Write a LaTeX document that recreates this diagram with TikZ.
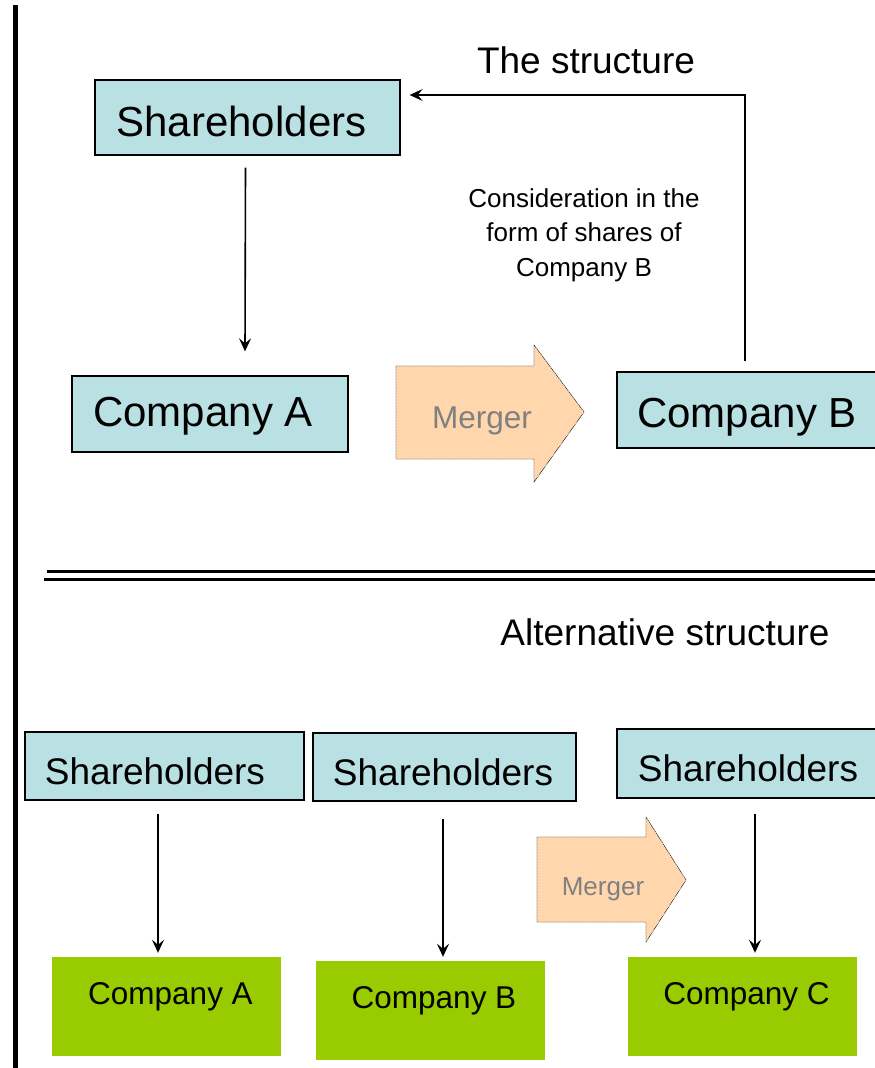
\documentclass[tikz,border=0pt]{standalone}
\usepackage{fontspec}
\setmainfont{Liberation Sans}
\usepackage{xcolor}
\usetikzlibrary{arrows.meta, positioning, calc, patterns}
\definecolor{boxblue}{HTML}{B9E0E2}
\definecolor{boxgreen}{HTML}{99CC00}
\definecolor{mergefill}{HTML}{FFD4A8}
\definecolor{mergehatch}{HTML}{FFDDBA}
\definecolor{mergetext}{HTML}{808080}
\begin{document}
\begin{tikzpicture}[x=1pt, y=-1pt,
  bluebox/.style={draw=black, line width=1.3pt, fill=boxblue, inner sep=0pt},
  greenbox/.style={fill=boxgreen, inner sep=0pt, minimum width=229pt, minimum height=99pt},
  bigtext/.style={font=\fontsize{42}{48}\selectfont},
  midtext/.style={font=\fontsize{37}{42}\selectfont},
  smalltext/.style={font=\fontsize{31.5}{36}\selectfont},
  mergeshape/.style={fill=mergefill, postaction={pattern=north east lines, pattern color=mergehatch}},
  arr/.style={line width=1.6pt, -{Stealth[length=13pt, width=12pt, inset=5pt]}}]
\useasboundingbox (0,0) rectangle (875,1068);
\fill[white] (0,0) rectangle (875,1068);

\draw[line width=5pt] (15.5,5) -- (15.5,1068);
\draw[line width=3pt] (47,571) -- (875,571);
\draw[line width=3pt] (44,579) -- (875,579);

% the structure
\node[midtext] (title) at (586,60) {The structure};
\node[bluebox, minimum width=305pt, minimum height=75pt] (sh) at (247.5,117.5) {};
\node[bigtext] (sh-t) at ([xshift=-6pt, yshift=-3.5pt]sh) {Shareholders};
\node[bluebox, minimum width=276pt, minimum height=76pt] (ca) at (210,414) {};
\node[bigtext] (ca-t) at ([xshift=-7pt, yshift=-2pt]ca) {Company A};
\node[bluebox, minimum width=262pt, minimum height=76pt] (cb) at (748,410) {};
\node[bigtext] (cb-t) at ([xshift=-1pt, yshift=-7.5pt]cb) {Company B};
\node[align=center, font=\fontsize{26}{34.5}\selectfont] (cons) at (584,235)
  {Consideration in the\\form of shares of\\Company B};

\draw[mergeshape] (396,366) -- (534,366) -- (534,345) -- (584,412) -- (534,482) -- (534,459) -- (396,459) -- cycle;
\node[text=mergetext, smalltext] (merge) at (482,421) {Merger};

\draw[arr] ([xshift=-2pt, yshift=-12pt]sh.south) -- ([xshift=35pt, yshift=24pt]ca.north);
\draw[arr] ([xshift=-3pt, yshift=10pt]cb.north) |- ([xshift=9pt, yshift=22.5pt]sh.east);

% alternative structure
\node[midtext] (alt) at (665,632) {Alternative structure};
\node[bluebox, minimum width=279pt, minimum height=68pt] (sha) at (164.5,766) {};
\node[midtext] (sha-t) at ([xshift=-9.5pt, yshift=-5pt]sha) {Shareholders};
\node[bluebox, minimum width=263pt, minimum height=68pt] (shb) at (444.5,767) {};
\node[midtext] (shb-t) at ([xshift=-1.5pt, yshift=-5pt]shb) {Shareholders};
\node[bluebox, minimum width=264pt, minimum height=69pt] (shc) at (749,763.5) {};
\node[midtext] (shc-t) at ([xshift=-1pt, yshift=-5pt]shc) {Shareholders};

\node[greenbox] (ga) at (166,1006.5) {};
\node[smalltext] (ga-t) at ([xshift=4.5pt, yshift=10pt]ga) {Company A};
\node[greenbox] (gb) at (430.5,1010.5) {};
\node[smalltext] (gb-t) at ([xshift=3.5pt, yshift=9.5pt]gb) {Company B};
\node[greenbox] (gc) at (742.5,1006.5) {};
\node[smalltext] (gc-t) at ([xshift=4pt, yshift=9.5pt]gc) {Company C};

\draw[mergeshape] (537,837) -- (646,837) -- (646,817) -- (686,880) -- (646,942) -- (646,922) -- (537,922) -- cycle;
\node[text=mergetext, font=\fontsize{26}{30}\selectfont] (merge2) at (603,889) {Merger};

\draw[arr] ([xshift=-6.5pt, yshift=-13pt]sha.south) -- ([xshift=-8pt, yshift=4pt]ga.north);
\draw[arr] ([xshift=-1.5pt, yshift=-17pt]shb.south) -- ([xshift=12.5pt, yshift=4pt]gb.north);
\draw[arr] ([xshift=6pt, yshift=-15pt]shc.south) -- ([xshift=12.5pt, yshift=4pt]gc.north);
\end{tikzpicture}
\end{document}
